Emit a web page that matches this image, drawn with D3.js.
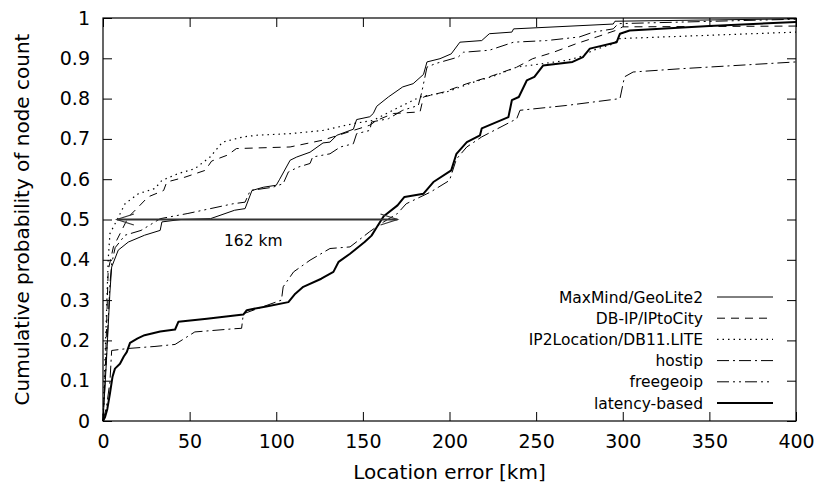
<!DOCTYPE html>
<html>
<head>
<meta charset="utf-8">
<script src="https://cdn.jsdelivr.net/npm/d3@7"></script>
<style>
  body { margin: 0; background: #fff; }
  text { font-family: 'DejaVu Sans', sans-serif; fill: #000; }
</style>
</head>
<body>
<script>
const outerWidth = 820
const outerHeight = 489
const margins = { top: 18, right: 24, bottom: 68, left: 103 }

// [location error km, cumulative probability]
const maxmind = [[0,0],[2,0.15],[4,0.32],[5,0.382],[8.8,0.424],[14.6,0.444],[24,0.461],[33,0.473],[34,0.494],[45,0.5],[62,0.502],[76,0.523],[82,0.527],[86,0.572],[92.5,0.58],[100,0.585],[102,0.6],[108,0.647],[111.8,0.655],[119.5,0.667],[127,0.69],[131,0.692],[135,0.709],[144.5,0.724],[146.4,0.748],[154,0.755],[156,0.763],[158,0.781],[164.7,0.804],[173,0.829],[179,0.837],[185,0.86],[187,0.891],[194.5,0.899],[201,0.911],[206,0.94],[218.6,0.944],[223,0.961],[236,0.965],[237,0.973],[294.5,0.985],[295.5,0.992],[400,0.998]]
const dbip = [[0,0],[1.5,0.15],[3,0.374],[6,0.432],[10.8,0.473],[14.6,0.506],[20.4,0.531],[26,0.556],[35,0.572],[36.8,0.593],[47.3,0.605],[59,0.622],[62.7,0.645],[72,0.66],[77,0.676],[108,0.68],[127,0.697],[144.5,0.721],[154,0.734],[158,0.746],[167.6,0.763],[183,0.767],[185,0.804],[196.4,0.816],[210,0.837],[223,0.854],[238.8,0.878],[248,0.899],[260,0.915],[273,0.936],[285,0.953],[296.5,0.97],[300,0.978],[400,0.98]]
const ip2location = [[0,0],[1.5,0.2],[3,0.4],[4,0.465],[8,0.498],[12.7,0.539],[20.4,0.564],[30,0.577],[34,0.597],[43.5,0.614],[53,0.626],[61.8,0.655],[69,0.692],[81,0.705],[88.7,0.709],[108,0.713],[127,0.721],[144.5,0.738],[156,0.746],[171,0.779],[183,0.804],[198,0.816],[214,0.841],[227,0.858],[238.8,0.878],[267.6,0.895],[275,0.903],[283,0.92],[294.5,0.936],[298.4,0.949],[400,0.965]]
const hostip = [[0,0],[2,0.035],[4,0.097],[5,0.175],[14.6,0.18],[30,0.185],[41.6,0.19],[53,0.221],[76,0.229],[80,0.23],[81,0.266],[90,0.28],[103,0.3],[104,0.333],[110,0.37],[119.5,0.399],[131,0.428],[142.6,0.432],[154,0.47],[162,0.494],[170,0.515],[175,0.539],[189,0.568],[200,0.597],[204,0.65],[210,0.68],[218.6,0.705],[238.8,0.75],[240.7,0.771],[267.6,0.783],[298.4,0.8],[301,0.854],[306,0.866],[333,0.874],[400,0.891]]
const freegeoip = [[0,0],[2,0.16],[4,0.34],[5,0.39],[7,0.43],[12.7,0.461],[22,0.473],[33,0.502],[49,0.515],[75,0.539],[82,0.543],[85,0.572],[98,0.58],[104,0.589],[107,0.618],[112.7,0.63],[119.5,0.639],[121,0.655],[131,0.663],[137,0.68],[144.5,0.688],[146.4,0.713],[154,0.721],[155,0.742],[164.7,0.75],[173,0.771],[182,0.783],[184,0.816],[187,0.878],[192,0.887],[205,0.903],[208,0.915],[223,0.92],[237,0.94],[256,0.944],[275,0.953],[283,0.965],[294.5,0.973],[297.4,0.986],[400,0.997]]
const latency = [[0,0],[1.2,0.01],[2.5,0.03],[4,0.068],[5.5,0.11],[6.9,0.13],[9.8,0.142],[12,0.16],[13.7,0.171],[15.6,0.194],[20,0.205],[24,0.213],[33,0.222],[41.6,0.227],[43.5,0.246],[60,0.254],[76,0.262],[81,0.264],[83,0.275],[95,0.285],[107,0.295],[111,0.316],[115.6,0.333],[126,0.353],[133,0.37],[136,0.395],[142.6,0.415],[151,0.444],[155,0.46],[158,0.481],[162,0.508],[170,0.535],[174,0.556],[185,0.564],[190.7,0.593],[201,0.622],[204,0.663],[210,0.692],[217.6,0.709],[218.6,0.726],[234,0.754],[236,0.796],[240,0.804],[244.6,0.845],[249,0.854],[254,0.882],[271,0.891],[277,0.903],[281,0.924],[296.5,0.94],[298.4,0.961],[304,0.969],[350,0.98],[400,0.99]]

const seriesNames = ['MaxMind/GeoLite2', 'DB-IP/IPtoCity', 'IP2Location/DB11.LITE', 'hostip', 'freegeoip', 'latency-based']
const seriesData = [maxmind, dbip, ip2location, hostip, freegeoip, latency]
const seriesDash = [null, '8,6', '1.5,4', '12,4,2,4', '12,4,2,4,2,4', null]
const seriesWidth = [1, 1, 1.2, 1, 1, 2]

const xTicks = [0, 50, 100, 150, 200, 250, 300, 350, 400]
const yTicks = [0, 0.1, 0.2, 0.3, 0.4, 0.5, 0.6, 0.7, 0.8, 0.9, 1]
const arrowFrom = 8
const arrowTo = 170
const arrowLevel = 0.5
const arrowLabel = '162 km'

const svg = d3.select('body').append('svg')
  .attr('width', outerWidth)
  .attr('height', outerHeight)

const xScale = d3.scaleLinear()
  .domain([0, 400])
  .range([margins.left, outerWidth - margins.right])
const yScale = d3.scaleLinear()
  .domain([0, 1])
  .range([outerHeight - margins.bottom, margins.top])

const tickLen = 9
const fmtY = d => d === 0 || d === 1 ? String(d) : d.toFixed(1)

// axes, ticks inward on all four sides
svg.append('g')
  .attr('transform', `translate(0,${yScale(0)})`)
  .call(d3.axisBottom(xScale).tickValues(xTicks).tickSize(-tickLen).tickPadding(14).tickFormat(d3.format('d')))
svg.append('g')
  .attr('transform', `translate(0,${yScale(1)})`)
  .call(d3.axisTop(xScale).tickValues(xTicks).tickSize(-tickLen).tickFormat(''))
svg.append('g')
  .attr('transform', `translate(${xScale(0)},0)`)
  .call(d3.axisLeft(yScale).tickValues(yTicks).tickSize(-tickLen).tickPadding(13).tickFormat(fmtY))
svg.append('g')
  .attr('transform', `translate(${xScale(400)},0)`)
  .call(d3.axisRight(yScale).tickValues(yTicks).tickSize(-tickLen).tickFormat(''))

svg.selectAll('.domain').remove()
svg.selectAll('.tick line').attr('stroke', '#000')
svg.selectAll('.tick text')
  .attr('font-family', "'DejaVu Sans', sans-serif")
  .attr('font-size', 19)
  .attr('fill', '#000')

svg.append('rect')
  .attr('x', xScale(0))
  .attr('y', yScale(1))
  .attr('width', xScale(400) - xScale(0))
  .attr('height', yScale(0) - yScale(1))
  .attr('fill', 'none')
  .attr('stroke', '#000')
  .attr('stroke-width', 1.2)

// lines
const line = d3.line()
  .x(d => xScale(d[0]))
  .y(d => yScale(d[1]))

seriesData.forEach((data, i) => {
  svg.append('path')
    .datum(data)
    .attr('d', line)
    .attr('fill', 'none')
    .attr('stroke', '#000')
    .attr('stroke-width', seriesWidth[i])
    .attr('stroke-dasharray', seriesDash[i])
    .attr('stroke-linejoin', 'round')
})

// 162 km arrow
const ay = yScale(arrowLevel)
const ax1 = xScale(arrowFrom)
const ax2 = xScale(arrowTo)
svg.append('line')
  .attr('x1', ax1).attr('x2', ax2)
  .attr('y1', ay).attr('y2', ay)
  .attr('stroke', '#333')
  .attr('stroke-width', 2)
const head = (tip, dir) =>
  `M${tip + dir * 17},${ay - 5.5}L${tip},${ay}L${tip + dir * 17},${ay + 5.5}`
svg.append('path')
  .attr('d', head(ax1, 1) + head(ax2, -1))
  .attr('fill', 'none')
  .attr('stroke', '#333')
  .attr('stroke-width', 1.2)
svg.append('text')
  .attr('x', 224)
  .attr('y', ay + 26)
  .attr('font-size', 15.5)
  .text(arrowLabel)

// legend
const legendRight = 703
const legendTop = 297
const legendStep = 21.2
const legend = svg.append('g')
seriesNames.forEach((name, i) => {
  const y = legendTop + i * legendStep
  legend.append('text')
    .attr('x', legendRight)
    .attr('y', y)
    .attr('dy', '0.36em')
    .attr('text-anchor', 'end')
    .attr('font-size', 15.5)
    .text(name)
  legend.append('line')
    .attr('x1', 717).attr('x2', 773)
    .attr('y1', y).attr('y2', y)
    .attr('stroke', '#000')
    .attr('stroke-width', seriesWidth[i])
    .attr('stroke-dasharray', seriesDash[i])
})

// axis titles
svg.append('text')
  .attr('x', (xScale(0) + xScale(400)) / 2)
  .attr('y', 479)
  .attr('text-anchor', 'middle')
  .attr('font-size', 20)
  .text('Location error [km]')
svg.append('text')
  .attr('transform', `translate(29,${(yScale(0) + yScale(1)) / 2}) rotate(-90)`)
  .attr('text-anchor', 'middle')
  .attr('font-size', 20)
  .text('Cumulative probability of node count')
</script>
</body>
</html>
